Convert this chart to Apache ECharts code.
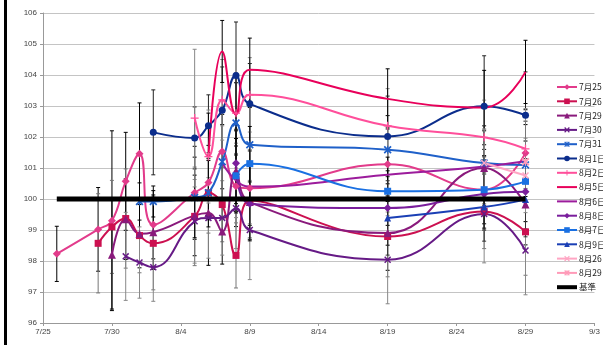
<!DOCTYPE html>
<html>
<head>
<meta charset="utf-8">
<script src="https://cdn.jsdelivr.net/npm/echarts@6/dist/echarts.min.js"></script>
<style>
  html, body { margin: 0; padding: 0; background: #fff; }
  #chart { width: 603px; height: 345px; }
</style>
</head>
<body>
<div id="chart"></div>
<script>
// x は 7/25 からの日数
const tickLabels = ['7/25', '7/30', '8/4', '8/9', '8/14', '8/19', '8/24', '8/29', '9/3']

const seriesNames = ['7月25日', '7月26日', '7月29日', '7月30日', '7月31日', '8月1日', '8月2日',
  '8月5日', '8月6日', '8月8日', '8月7日', '8月9日', '8月26日', '8月29日']

const seriesDays = [
  [1, 4, 5, 6, 7, 8, 11, 12, 13, 14, 15, 25, 32, 35],
  [4, 5, 6, 7, 8, 11, 12, 13, 14, 15, 25, 32, 35],
  [5, 6, 7, 8, 11, 12, 13, 14, 15, 25, 32, 35],
  [6, 7, 8, 11, 12, 13, 14, 15, 25, 32, 35],
  [7, 8, 11, 12, 13, 14, 15, 25, 32, 35],
  [8, 11, 12, 13, 14, 15, 25, 32, 35],
  [11, 12, 13, 14, 15, 25, 32, 35],
  [12, 13, 14, 15, 25, 32, 35],
  [13, 14, 15, 25, 32, 35],
  [14, 15, 25, 32, 35],
  [14, 15, 25, 32, 35],
  [25, 32, 35],
  [32, 35],
  [35]
]

const seriesValues = [
  [98.23, 99.02, 99.3, 100.57, 101.46, 99.17, 100.2, 100.53, 101.53, 100.41, 100.35, 101.12, 100.3, 101.48],
  [98.57, 99.1, 99.37, 98.82, 98.57, 99.44, 100.2, 99.82, 98.18, 99.95, 98.79, 99.6, 98.94],
  [98.2, 99.35, 98.88, 98.93, 99.47, 99.55, 98.95, 100.9, 99.9, 98.9, 101.0, 99.82],
  [98.15, 97.95, 97.8, 99.28, 99.39, 99.39, 99.7, 99.0, 98.04, 99.52, 98.34],
  [99.92, 99.92, 100.05, 100.2, 101.2, 102.45, 101.75, 101.59, 101.16, 101.1],
  [102.15, 101.97, 102.36, 102.86, 103.98, 103.07, 102.02, 102.99, 102.7],
  [102.61, 101.37, 103.2, 102.77, 103.36, 102.36, 101.99, 101.62],
  [101.37, 104.76, 102.72, 104.17, 103.23, 102.95, 104.1],
  [101.16, 100.6, 100.4, 100.78, 101.05, 101.22],
  [101.15, 99.85, 99.71, 100.16, 100.23],
  [100.75, 101.14, 100.25, 100.3, 100.57],
  [99.39, 99.74, 99.98],
  [101.16, 100.76],
  [101.2]
]

const seriesErrors = [
  [0.89, 1.35, 2.9, 1.58, 1.64, 1.1, 1.5, 1.2, 1.2, 1.3, 1.2, 1.2, 1.3, 1.4],
  [1.6, 1.5, 1.6, 1.2, 1.5, 1.59, 1.3, 1.2, 1.05, 1.2, 1.3, 1.2, 1.4],
  [1.75, 1.3, 1.1, 1.2, 1.3, 1.69, 1.05, 1.3, 1.2, 1.2, 1.2, 1.3],
  [1.42, 1.15, 1.1, 1.35, 1.3, 1.2, 1.3, 1.6, 1.42, 1.58, 1.43],
  [0.6, 0.5, 1.3, 1.1, 1.2, 1.3, 1.2, 1.1, 1.2, 1.3],
  [1.37, 1.0, 1.0, 1.4, 1.73, 1.3, 1.3, 1.63, 1.4],
  [2.22, 1.5, 1.3, 1.3, 1.2, 1.2, 1.2, 1.3],
  [1.4, 1.0, 1.3, 1.02, 0.97, 1.2, 1.02],
  [1.2, 1.2, 1.2, 1.2, 1.2, 1.3],
  [1.3, 1.2, 1.2, 1.1, 1.2],
  [1.2, 1.2, 1.1, 1.1, 1.3],
  [1.2, 1.1, 1.2],
  [1.1, 1.2],
  [1.3]
]

const baseDays = [1, 35]
const baseValues = [100, 100]

const colors = ['#e23b8b', '#cc1050', '#8a1a7c', '#661a86', '#1f60c9', '#0b2d8c', '#ff4f9b',
  '#e8005a', '#9c1c9c', '#7a1e9c', '#1a70e2', '#1a3fb5', '#ffa6c4', '#ff9ab8']

const xPath = 'path://M0,1.5L1.5,0L5,3.5L8.5,0L10,1.5L6.5,5L10,8.5L8.5,10L5,6.5L1.5,10L0,8.5L3.5,5Z'
const starPath = 'path://M0,1.5L1.5,0L5,3.5L8.5,0L10,1.5L6.5,5L10,8.5L8.5,10L5,6.5L1.5,10L0,8.5L3.5,5Z M4.3,0L5.7,0L5.7,10L4.3,10Z'
const plusPath = 'path://M4.2,0L5.8,0L5.8,4.2L10,4.2L10,5.8L5.8,5.8L5.8,10L4.2,10L4.2,5.8L0,5.8L0,4.2L4.2,4.2Z'
const symbols = ['diamond', 'rect', 'triangle', xPath, starPath, 'circle', plusPath,
  'none', 'none', 'diamond', 'rect', 'triangle', xPath, starPath]
const symbolSizes = [8, 7, 8, 7, 8, 7, 8, 0, 0, 8, 7, 7, 7, 8]
const barColors = ['#000', '#777', '#000', '#888', '#000', '#222', '#888', '#000', '#888', '#000', '#000', '#333', '#888', '#777']

const chart = echarts.init(document.getElementById('chart'))

const errorData = []
seriesNames.forEach((name, i) => {
  seriesDays[i].forEach((d, j) => {
    errorData.push([d, seriesValues[i][j] - seriesErrors[i][j], seriesValues[i][j] + seriesErrors[i][j], i])
  })
})

const lineSeries = seriesNames.map((name, i) => ({
  name,
  type: 'line',
  smooth: 0.45,
  data: seriesDays[i].map((d, j) => [d, seriesValues[i][j]]),
  symbol: symbols[i],
  symbolSize: symbolSizes[i],
  showSymbol: symbols[i] !== 'none',
  color: colors[i],
  lineStyle: { width: 2, color: colors[i] },
  itemStyle: { color: colors[i] },
  z: 3,
  animation: false
}))

// 記号なしの系列は凡例を線だけにする
const legendData = seriesNames.map((name, i) =>
  symbols[i] === 'none' ? { name, icon: 'path://M0,0L20,0L20,2L0,2Z' } : { name }
)
legendData.push({ name: '基準', icon: 'path://M0,0L20,0L20,4L0,4Z' })

const option = {
  animation: false,
  grid: { left: 43, right: 1, top: 13, bottom: 22 },
  xAxis: {
    type: 'value',
    min: 0,
    max: 40,
    interval: 5,
    axisLine: { lineStyle: { color: '#999' } },
    axisTick: { show: true, length: 3, lineStyle: { color: '#999' } },
    splitLine: { show: false },
    axisLabel: {
      formatter: (v) => tickLabels[v / 5],
      fontSize: 8,
      color: '#444',
      fontFamily: 'Liberation Sans',
      margin: 5
    }
  },
  yAxis: {
    type: 'value',
    min: 96,
    max: 106,
    interval: 1,
    axisLine: { show: true, lineStyle: { color: '#999' } },
    axisTick: { show: true, length: 3, lineStyle: { color: '#999' } },
    splitLine: { lineStyle: { color: '#c4c4c4', width: 1 } },
    axisLabel: { fontSize: 8, color: '#444', fontFamily: 'Liberation Sans', margin: 6 }
  },
  legend: {
    orient: 'vertical',
    left: 556,
    top: 82,
    itemWidth: 20,
    itemHeight: 7,
    itemGap: 4.3,
    padding: 0,
    data: legendData,
    textStyle: { fontSize: 8.5, lineHeight: 10, color: '#222', fontFamily: 'Noto Sans CJK JP', padding: [0, 0, 0, -3] }
  },
  graphic: [
    { type: 'rect', left: 4, top: 0, shape: { width: 3, height: 345 }, style: { fill: '#000' } }
  ],
  series: [
    {
      name: 'error',
      type: 'custom',
      data: errorData,
      z: 1,
      silent: true,
      renderItem: (params, api) => {
        const x = api.value(0)
        const lo = api.coord([x, api.value(1)])
        const hi = api.coord([x, api.value(2)])
        const c = barColors[api.value(3)]
        const w = 2
        return {
          type: 'group',
          children: [
            { type: 'line', shape: { x1: lo[0], y1: lo[1], x2: hi[0], y2: hi[1] }, style: { stroke: c, lineWidth: 1 } },
            { type: 'line', shape: { x1: lo[0] - w, y1: lo[1], x2: lo[0] + w, y2: lo[1] }, style: { stroke: c, lineWidth: 1 } },
            { type: 'line', shape: { x1: hi[0] - w, y1: hi[1], x2: hi[0] + w, y2: hi[1] }, style: { stroke: c, lineWidth: 1 } }
          ]
        }
      }
    },
    ...lineSeries,
    {
      name: '基準',
      type: 'line',
      data: baseDays.map((d, j) => [d, baseValues[j]]),
      symbol: 'none',
      color: '#000',
      lineStyle: { width: 5, color: '#000' },
      z: 4
    }
  ]
}

chart.setOption(option)
</script>
</body>
</html>
